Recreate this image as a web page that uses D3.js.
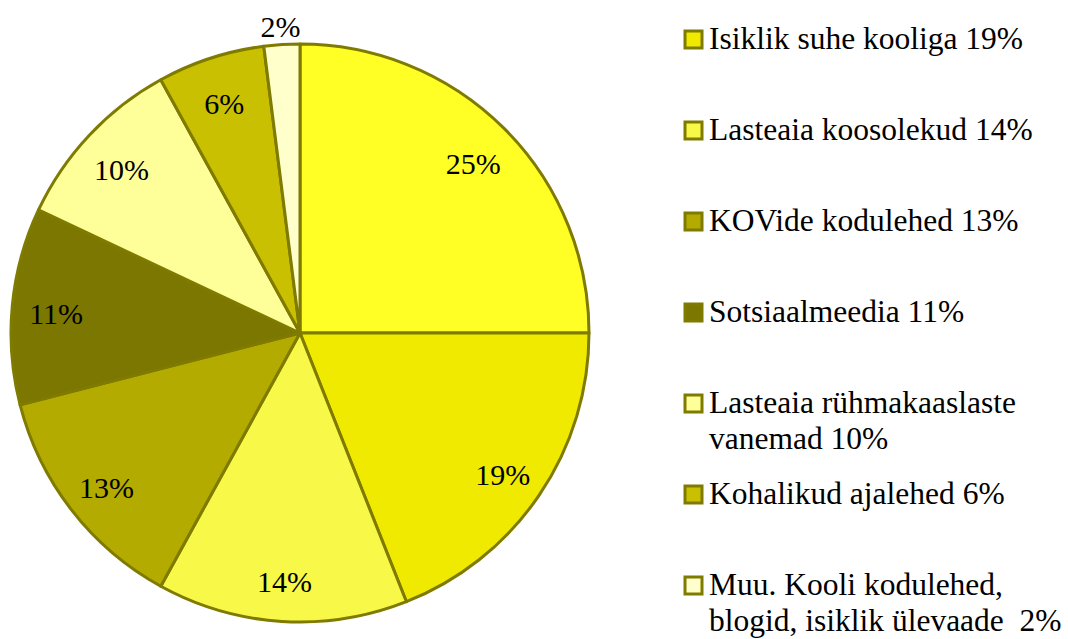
<!DOCTYPE html>
<html>
<head>
<meta charset="utf-8">
<script src="https://cdn.jsdelivr.net/npm/d3@7"></script>
<style>
  html, body { margin: 0; padding: 0; background: #fff; }
  #chart { width: 1068px; height: 639px; }
</style>
</head>
<body>
<div id="chart"></div>
<script>
// slice values, clockwise from 12 o'clock
const values = [25, 19, 14, 13, 11, 10, 6, 2];
const sliceColors = ['#FFFF26', '#F0EA00', '#F8F848', '#B3AB00', '#7B7700', '#FFFF99', '#C8C000', '#FFFFCC'];

// legend (the first slice has no entry)
const legendLines = [
  ['Isiklik suhe kooliga 19%'],
  ['Lasteaia koosolekud 14%'],
  ['KOVide kodulehed 13%'],
  ['Sotsiaalmeedia 11%'],
  ['Lasteaia rühmakaaslaste', 'vanemad 10%'],
  ['Kohalikud ajalehed 6%'],
  ['Muu. Kooli kodulehed,', 'blogid, isiklik ülevaade  2%']
];
const legendColors = sliceColors.slice(1);

const W = 1068, H = 639;
const cx = 300, cy = 333, R = 289;
const stroke = '#7F7A00';
const font = 'Liberation Serif';

const svg = d3.select('#chart').append('svg')
  .attr('width', W).attr('height', H);

const g = svg.append('g').attr('transform', `translate(${cx},${cy})`);

const pie = d3.pie().sort(null).value(d => d);
const arcs = pie(values);
const arc = d3.arc().innerRadius(0).outerRadius(R);
const labelArc = d3.arc().innerRadius(245).outerRadius(245);
const outerLabelArc = d3.arc().innerRadius(311).outerRadius(311);

g.selectAll('path.slice')
  .data(arcs)
  .enter().append('path')
  .attr('class', 'slice')
  .attr('d', arc)
  .attr('fill', (d, i) => sliceColors[i])
  .attr('stroke', stroke)
  .attr('stroke-width', 3)
  .attr('stroke-linejoin', 'round');

// percentage labels; the tiny slice gets its label outside
g.selectAll('text.lbl')
  .data(arcs)
  .enter().append('text')
  .attr('class', 'lbl')
  .attr('transform', d => {
    const c = (d.data < 5 ? outerLabelArc : labelArc).centroid(d);
    return `translate(${c[0]},${c[1] + 4})`;
  })
  .attr('text-anchor', 'middle')
  .attr('dy', '0.35em')
  .attr('font-family', font)
  .attr('font-size', 30)
  .text(d => d.data + '%');

// legend
const legendY = d3.scaleLinear().domain([0, legendLines.length - 1]).range([49, 595]);
const lg = svg.append('g');
legendLines.forEach((lines, i) => {
  const y = legendY(i);
  lg.append('rect')
    .attr('x', 685).attr('y', y - 18)
    .attr('width', 17).attr('height', 17)
    .attr('fill', legendColors[i])
    .attr('stroke', stroke)
    .attr('stroke-width', 3);
  const t = lg.append('text')
    .attr('x', 709).attr('y', y)
    .attr('font-family', font)
    .attr('font-size', 31.5);
  lines.forEach((ln, j) => {
    t.append('tspan')
      .attr('x', 709)
      .attr('dy', j === 0 ? 0 : 36)
      .attr('xml:space', 'preserve')
      .text(ln);
  });
});
</script>
</body>
</html>
